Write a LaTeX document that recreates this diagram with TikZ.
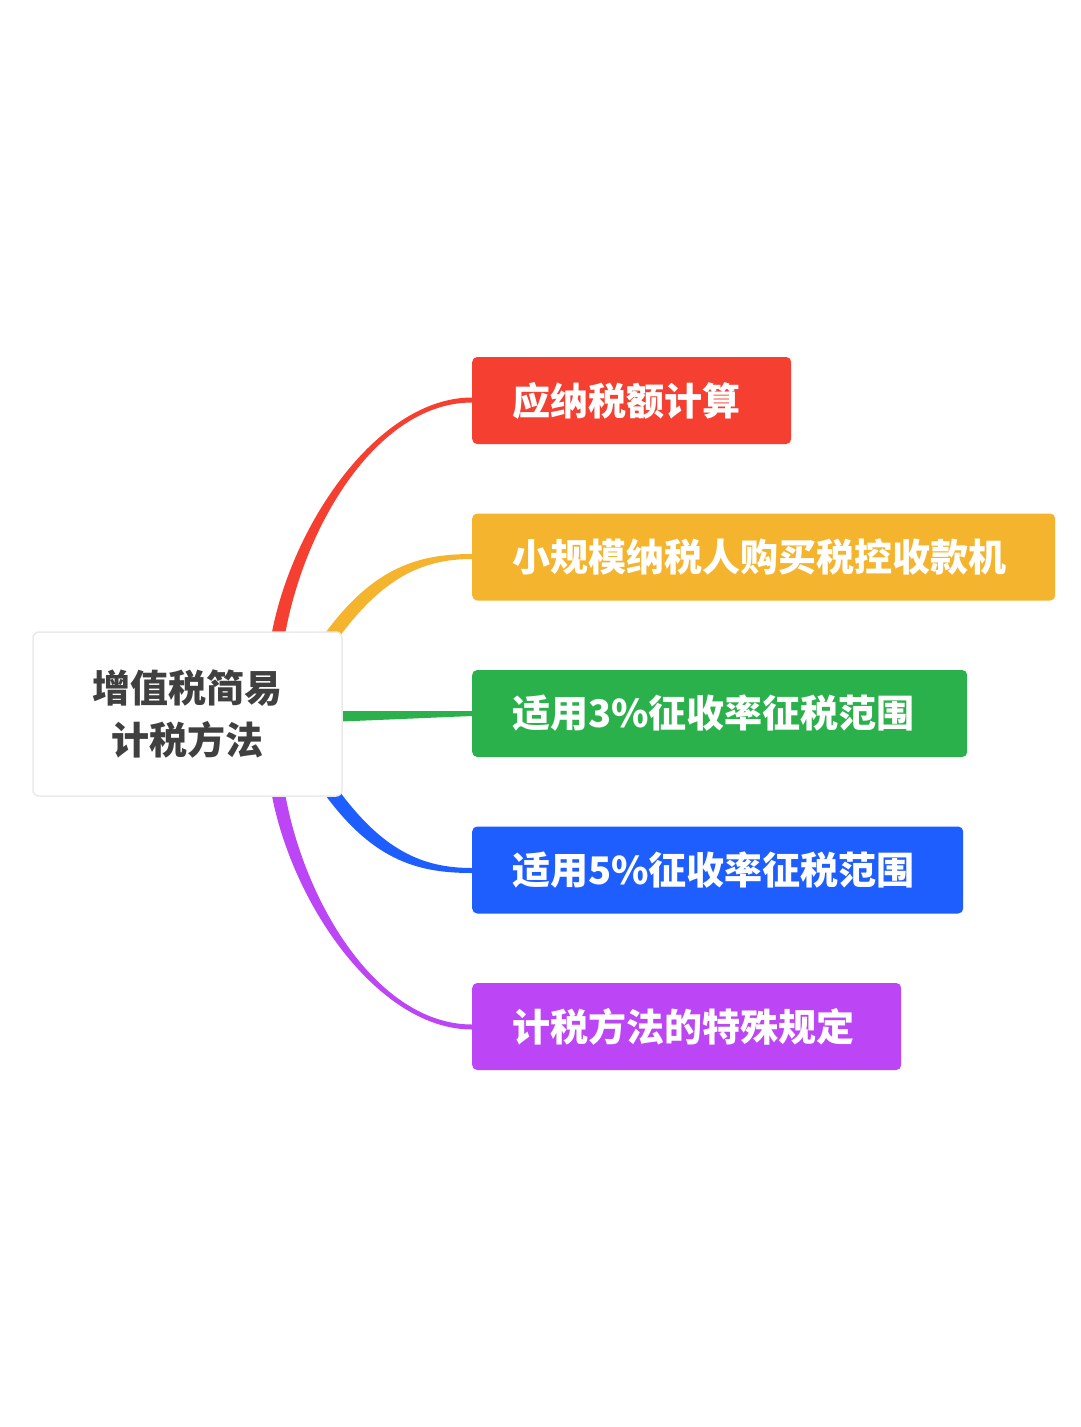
\documentclass[tikz,border=0pt]{standalone}
\usepackage{fontspec}
\newfontfamily\cjk{Noto Sans CJK SC}
\usetikzlibrary{calc}
\definecolor{cRed}{HTML}{F43F31}
\definecolor{cOrange}{HTML}{F5B42E}
\definecolor{cGreen}{HTML}{2AB14B}
\definecolor{cBlue}{HTML}{1E5EFF}
\definecolor{cPurple}{HTML}{BC45F5}
\definecolor{cText}{HTML}{404040}
\begin{document}
\begin{tikzpicture}[x=1pt,y=-1pt,
  branch/.style={anchor=west,minimum height=87pt,inner ysep=0pt,inner xsep=40pt,rounded corners=5pt,
    text width={#1-80pt},align=left,
    text=white,font=\cjk\bfseries\fontsize{38}{44}\selectfont},
  rootbox/.style={minimum width=309pt,minimum height=164pt,inner sep=0pt,rounded corners=6pt,
    fill=white,draw={rgb,255:red,234;green,234;blue,234},line width=1.5pt,
    text=cText,align=center,font=\cjk\bfseries\fontsize{38}{52}\selectfont}]
\useasboundingbox (0,0) rectangle (1080,1427);
\fill[white] (0,0) rectangle (1080,1427);

% branch nodes
\node[branch=319pt,fill=cRed] (n1) at (472,400.5) {应纳税额计算};
\node[branch=583pt,fill=cOrange] (n2) at (472,557) {小规模纳税人购买税控收款机};
\node[branch=495pt,fill=cGreen] (n3) at (472,713.5) {适用3\%征收率征税范围};
\node[branch=491pt,fill=cBlue] (n4) at (472,870) {适用5\%征收率征税范围};
\node[branch=429pt,fill=cPurple] (n5) at (472,1026.5) {计税方法的特殊规定};

% root position (drawn later, on top)
\path (187.5,714) coordinate (rc);
\coordinate (rtop) at ($(rc)+(0,-82)$);
\coordinate (rbot) at ($(rc)+(0,82)$);
\coordinate (reast) at ($(rc)+(154.5,0)$);

% tapered connectors
\fill[cRed] ($(rtop)+(84.5,0)$) .. controls +(22,-112) and +(-92,0) .. ($(n1.west)+(0,-3)$)
  -- ($(n1.west)+(0,2)$) .. controls +(-92,0) and +(21,-112) .. ($(rtop)+(98,0)$) -- cycle;
\fill[cOrange] ($(rtop)+(138.5,0)$) .. controls +(49,-66) and +(-52,0) .. ($(n2.west)+(0,-3)$)
  -- ($(n2.west)+(0,2)$) .. controls +(-50,0) and +(45,-62) .. ($(rtop)+(149.5,8)$) -- cycle;
\fill[cGreen] ($(reast)+(-12,-3)$) -- ($(n3.west)+(0,-2.5)$) -- ($(n3.west)+(0,2.5)$) -- ($(reast)+(-12,8)$) -- cycle;
\fill[cBlue] ($(rbot)+(138.5,0)$) .. controls +(49,66) and +(-52,0) .. ($(n4.west)+(0,3)$)
  -- ($(n4.west)+(0,-2)$) .. controls +(-50,0) and +(45,62) .. ($(rbot)+(149.5,-8)$) -- cycle;
\fill[cPurple] ($(rbot)+(84.5,0)$) .. controls +(22,112) and +(-92,0) .. ($(n5.west)+(0,3)$)
  -- ($(n5.west)+(0,-2)$) .. controls +(-92,0) and +(21,112) .. ($(rbot)+(98,0)$) -- cycle;

% root node
\node[rootbox] (root) at (rc) {增值税简易\\计税方法};
\end{tikzpicture}
\end{document}
